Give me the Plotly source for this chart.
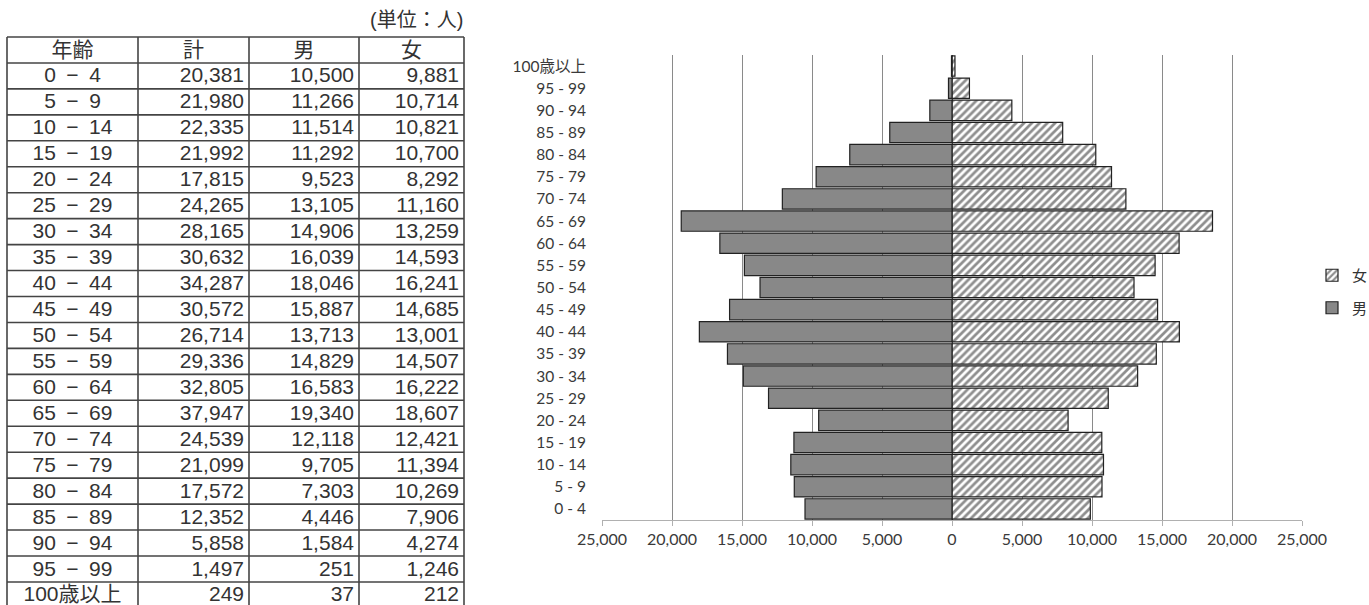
import plotly.graph_objects as go

W, H = 1369, 605

# ---- data: population by 5-year age group (unit: persons) ----
age_groups = ["0 - 4", "5 - 9", "10 - 14", "15 - 19", "20 - 24", "25 - 29",
              "30 - 34", "35 - 39", "40 - 44", "45 - 49", "50 - 54", "55 - 59",
              "60 - 64", "65 - 69", "70 - 74", "75 - 79", "80 - 84", "85 - 89",
              "90 - 94", "95 - 99", "100歳以上"]
total = [20381, 21980, 22335, 21992, 17815, 24265, 28165, 30632, 34287, 30572,
         26714, 29336, 32805, 37947, 24539, 21099, 17572, 12352, 5858, 1497, 249]
male = [10500, 11266, 11514, 11292, 9523, 13105, 14906, 16039, 18046, 15887,
        13713, 14829, 16583, 19340, 12118, 9705, 7303, 4446, 1584, 251, 37]
female = [9881, 10714, 10821, 10700, 8292, 11160, 13259, 14593, 16241, 14685,
          13001, 14507, 16222, 18607, 12421, 11394, 10269, 7906, 4274, 1246, 212]

table_header = ["年齢", "計", "男", "女"]
unit_note = "(単位：人)"
x_tick_values = [-25000, -20000, -15000, -10000, -5000, 0,
                 5000, 10000, 15000, 20000, 25000]

# ---- styling ----
CHART_FONT = "Lato, 'Noto Sans CJK JP', sans-serif"
TABLE_FONT = "'Liberation Sans', 'Noto Sans CJK JP', sans-serif"
TEXT_COLOR = "#333333"
col_edges = [0, 131, 242, 352, 457]      # table column borders (px units on x2)
ROW_PX = 25.95                           # table row height in px
TABLE_TOP = 37                           # px from top of the page
TABLE_LEFT = 7
NUM_PAD = 5
TABLE_FONT_SIZE = 21

fig = go.Figure()

# ---- population pyramid ----
fig.add_trace(go.Bar(
    y=age_groups, x=female, orientation="h", name="女",
    legendgroup="f", xaxis="x", yaxis="y",
    marker=dict(color="white",
                pattern=dict(shape="/", fgcolor="#1e1e1e", bgcolor="white",
                             size=5.5, solidity=0.5),
                line=dict(color="#222222", width=1.2)),
    hoverinfo="skip",
))
fig.add_trace(go.Bar(
    y=age_groups, x=[-v for v in male], orientation="h", name="男",
    legendgroup="m", xaxis="x", yaxis="y",
    marker=dict(color="#888888", line=dict(color="#222222", width=1.2)),
    hoverinfo="skip",
))

# ---- table (text drawn on its own pixel-scaled axes) ----
def table_display(label):
    return label.replace(" - ", "\u2002\u2212\u2002")

centers = [(col_edges[i] + col_edges[i + 1]) / 2 for i in range(4)]
n = len(age_groups)
row_mid = [i + 1.55 for i in range(n)]
table_textfont = dict(family=TABLE_FONT, size=TABLE_FONT_SIZE, color=TEXT_COLOR)

fig.add_trace(go.Scatter(
    x=centers, y=[0.55] * 4, text=table_header, mode="text",
    textposition="middle center", xaxis="x2", yaxis="y2", showlegend=False,
    textfont=table_textfont, hoverinfo="skip",
))
fig.add_trace(go.Scatter(
    x=[centers[0]] * n, y=row_mid, text=[table_display(a) for a in age_groups],
    mode="text", textposition="middle center", xaxis="x2", yaxis="y2",
    showlegend=False, hoverinfo="skip", textfont=table_textfont,
))
for j, col in enumerate([total, male, female], start=1):
    fig.add_trace(go.Scatter(
        x=[col_edges[j + 1] - NUM_PAD] * n, y=row_mid,
        text=[f"{v:,}" for v in col], mode="text", textposition="middle left",
        xaxis="x2", yaxis="y2", showlegend=False, hoverinfo="skip",
        textfont=table_textfont,
    ))

shapes = []
for k in range(n + 2):
    shapes.append(dict(type="line", xref="x2", yref="y2", x0=col_edges[0],
                       x1=col_edges[-1], y0=k, y1=k,
                       line=dict(color="#444444", width=1.6)))
for e in col_edges:
    shapes.append(dict(type="line", xref="x2", yref="y2", x0=e, x1=e,
                       y0=0, y1=n + 1, line=dict(color="#444444", width=1.6)))

# y2 range: rows in units, 1 unit = ROW_PX pixels, top border at TABLE_TOP
y2_top = -0.15
y2_bottom = (H - TABLE_TOP) / ROW_PX
y2_dom_top = 1 - (TABLE_TOP + y2_top * ROW_PX) / H

fig.update_layout(
    width=W, height=H,
    margin=dict(l=0, r=0, t=0, b=0, autoexpand=False),
    paper_bgcolor="white", plot_bgcolor="white",
    barmode="overlay", bargap=0.08,
    font=dict(family=CHART_FONT, color=TEXT_COLOR),
    xaxis=dict(
        domain=[602 / W, 1302 / W], range=[-25000, 25000], automargin=False,
        tickvals=x_tick_values, ticktext=[f"{abs(v):,}" for v in x_tick_values],
        showgrid=True, gridcolor="#8a8a8a", gridwidth=1.3,
        zeroline=True, zerolinecolor="#555555", zerolinewidth=1,
        showline=True, linecolor="#b0b0b0", linewidth=1.2,
        ticks="outside", ticklen=5, tickcolor="#b0b0b0",
        tickfont=dict(family=CHART_FONT, size=16, color="#3a3a3a"),
        fixedrange=True,
    ),
    yaxis=dict(
        domain=[1 - 520 / H, 1 - 55 / H], type="category", automargin=False,
        showgrid=False, zeroline=False, showline=False,
        ticks="outside", ticklen=12, tickcolor="rgba(0,0,0,0)",
        tickfont=dict(family=CHART_FONT, size=15.5, color="#3a3a3a"),
        fixedrange=True,
    ),
    xaxis2=dict(
        domain=[(TABLE_LEFT - 2) / W, (TABLE_LEFT + col_edges[-1] + 2) / W],
        range=[-2, col_edges[-1] + 2], automargin=False,
        visible=False, fixedrange=True, anchor="y2",
    ),
    yaxis2=dict(
        domain=[0, y2_dom_top], range=[y2_bottom, y2_top], automargin=False,
        visible=False, fixedrange=True, anchor="x2",
    ),
    shapes=shapes,
    annotations=[dict(
        text=unit_note, xref="paper", yref="paper",
        x=(TABLE_LEFT + col_edges[-1] + 1) / W, y=1 - 20 / H,
        xanchor="right", yanchor="middle", showarrow=False,
        font=dict(family=TABLE_FONT, size=20, color=TEXT_COLOR),
    )],
    legend=dict(
        xref="container", yref="container", x=1312 / W, y=1 - 259 / H,
        xanchor="left", yanchor="top", traceorder="grouped",
        tracegroupgap=10, itemwidth=30, bgcolor="rgba(0,0,0,0)",
        font=dict(family=CHART_FONT, size=15, color="#333333"),
    ),
)

fig.write_html("out.html")
